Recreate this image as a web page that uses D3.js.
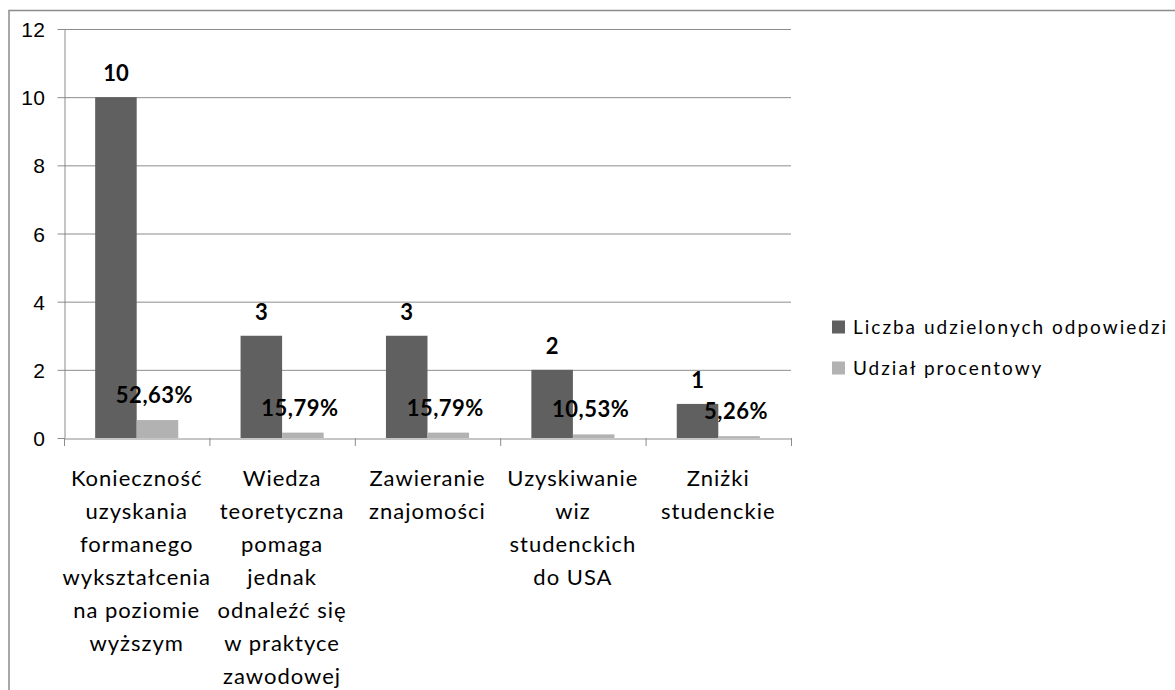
<!DOCTYPE html>
<html>
<head>
<meta charset="utf-8">
<script src="https://cdn.jsdelivr.net/npm/d3@7.9.0/dist/d3.min.js"></script>
<style>
  body { margin: 0; background: #fff; }
  svg { display: block; font-family: Lato, "Open Sans", sans-serif; }
  .tick text { font-size: 21px; fill: #000; letter-spacing: 0.5px; }
</style>
</head>
<body>
<svg width="1175" height="690"></svg>
<script>
const categories = [
  "Konieczność uzyskania formanego wykształcenia na poziomie wyższym",
  "Wiedza teoretyczna pomaga jednak odnaleźć się w praktyce zawodowej",
  "Zawieranie znajomości",
  "Uzyskiwanie wiz studenckich do USA",
  "Zniżki studenckie"
];
// how the category labels wrap in the picture
const categoryLines = [
  ["Konieczność", "uzyskania", "formanego", "wykształcenia", "na poziomie", "wyższym"],
  ["Wiedza", "teoretyczna", "pomaga", "jednak", "odnaleźć się", "w praktyce", "zawodowej"],
  ["Zawieranie", "znajomości"],
  ["Uzyskiwanie", "wiz", "studenckich", "do USA"],
  ["Zniżki", "studenckie"]
];
const seriesNames = ["Liczba udzielonych odpowiedzi", "Udział procentowy"];
const answers = [10, 3, 3, 2, 1];
const shares = [0.5263, 0.1579, 0.1579, 0.1053, 0.0526];
const shareLabels = ["52,63%", "15,79%", "15,79%", "10,53%", "5,26%"];
const yTicks = [0, 2, 4, 6, 8, 10, 12];
const colors = ["#606060", "#b2b2b2"];

const svg = d3.select("svg");

// outer chart frame (runs off the right and bottom edge)
svg.append("rect")
  .attr("x", 9).attr("y", 10.5)
  .attr("width", 1200).attr("height", 720)
  .attr("fill", "none")
  .attr("stroke", "#8c8c8c")
  .attr("stroke-width", 1.5);

const plotLeft = 64, plotRight = 791, plotTop = 29, plotBottom = 438;

let x = d3.scaleBand().domain(categories).range([plotLeft, plotRight]).padding(0);
let x1 = d3.scaleBand().domain(seriesNames).range([0, x.bandwidth()])
  .paddingInner(0).paddingOuter(0.75);
let y = d3.scaleLinear().domain([0, 12]).range([plotBottom, plotTop]);

// gridlines
svg.append("g")
  .selectAll("line")
  .data(yTicks.filter(d => d > 0))
  .join("line")
  .attr("x1", plotLeft).attr("x2", plotRight)
  .attr("y1", d => y(d) + 0.5).attr("y2", d => y(d) + 0.5)
  .attr("stroke", "#8c8c8c")
  .attr("stroke-width", 1);

// bars
let rows = categories.map((c, i) => ({ cat: c, values: [answers[i], shares[i]] }));

let groups = svg.append("g")
  .selectAll("g")
  .data(rows)
  .join("g")
  .attr("transform", d => `translate(${x(d.cat)},0)`);

groups.selectAll("rect")
  .data(d => d.values.map((v, k) => ({ key: seriesNames[k], v: v, k: k })))
  .join("rect")
  .attr("x", d => x1(d.key))
  .attr("width", x1.bandwidth())
  .attr("y", d => y(d.v))
  .attr("height", d => y(0) - y(d.v))
  .attr("fill", d => colors[d.k]);

// y axis
let yAxis = svg.append("g")
  .attr("transform", `translate(${plotLeft + 0.5},0)`)
  .call(d3.axisLeft(y).tickValues(yTicks).tickSize(7).tickPadding(12).tickSizeOuter(0));
yAxis.select(".domain").attr("stroke", "#8c8c8c");
yAxis.selectAll(".tick line").attr("stroke", "#8c8c8c");
yAxis.selectAll(".tick text").attr("dy", "0.36em");

// x axis
let xAxis = svg.append("g")
  .attr("transform", `translate(0,${plotBottom + 0.5})`)
  .call(d3.axisBottom(x).tickSize(0).tickFormat(""));
xAxis.select(".domain").attr("stroke", "#8c8c8c");
xAxis.selectAll(".tick").remove();

// category separators
svg.append("g")
  .selectAll("line")
  .data(categories.map(c => x(c)).concat([plotRight]))
  .join("line")
  .attr("x1", d => d + 0.5).attr("x2", d => d + 0.5)
  .attr("y1", plotBottom).attr("y2", plotBottom + 8)
  .attr("stroke", "#8c8c8c");

// category labels
svg.append("g")
  .selectAll("text")
  .data(categories)
  .join("text")
  .attr("text-anchor", "middle")
  .attr("font-size", 22)
  .attr("letter-spacing", "1px")
  .attr("fill", "#000")
  .each(function (c, i) {
    d3.select(this).selectAll("tspan")
      .data(categoryLines[i])
      .join("tspan")
      .attr("x", x(c) + x.bandwidth() / 2)
      .attr("y", (d, j) => 486 + j * 33)
      .text(d => d);
  });

// data labels
groups.append("text")
  .attr("x", x1(seriesNames[0]) + x1.bandwidth() / 2)
  .attr("y", d => y(d.values[0]) - 16)
  .attr("text-anchor", "middle")
  .attr("font-size", 22)
  .attr("font-weight", "bold")
  .text(d => d.values[0]);

groups.append("text")
  .attr("x", x1(seriesNames[1]) + x1.bandwidth() / 2 - 3)
  .attr("y", d => y(d.values[1]) - 17)
  .attr("text-anchor", "middle")
  .attr("font-size", 22)
  .attr("font-weight", "bold")
  .attr("letter-spacing", "0.5px")
  .text((d, i) => shareLabels[i]);

// legend
let legend = svg.append("g")
  .selectAll("g")
  .data(seriesNames)
  .join("g")
  .attr("transform", (d, i) => `translate(832,${327 + i * 41})`);

legend.append("rect")
  .attr("x", 0).attr("y", -6.5)
  .attr("width", 13).attr("height", 13)
  .attr("fill", (d, i) => colors[i]);

legend.append("text")
  .attr("x", 21)
  .attr("dy", "0.36em")
  .attr("font-size", 19)
  .attr("letter-spacing", "2px")
  .text(d => d);
</script>
</body>
</html>
